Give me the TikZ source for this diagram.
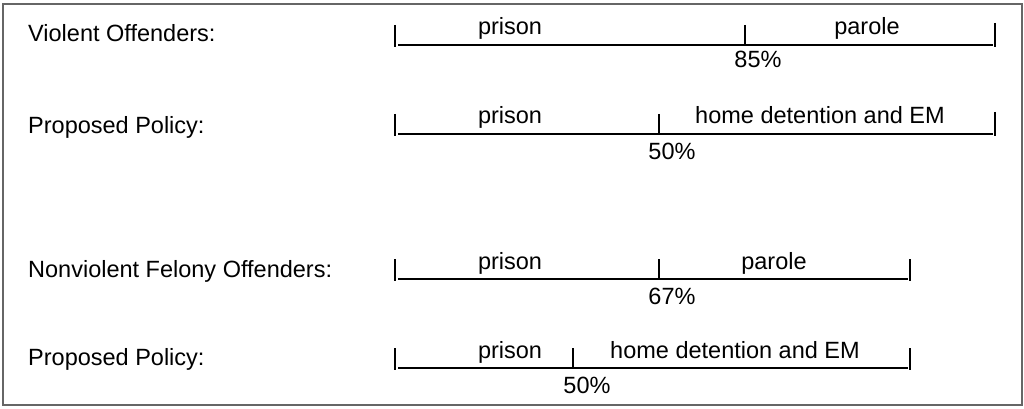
\documentclass[tikz,border=0pt]{standalone}
\usepackage{fontspec}
\setmainfont{Liberation Sans}
\begin{document}
\begin{tikzpicture}[x=1pt,y=-1pt,
  lbl/.style={anchor=base west,inner sep=0pt,font=\fontsize{23.5}{27}\selectfont},
  seg/.style={anchor=base,inner sep=0pt,font=\fontsize{23.5}{27}\selectfont},
  bar/.style={line width=2.2pt,black},
  frame/.style={draw=black!60,line width=1.5pt}]
\useasboundingbox (0,0) rectangle (1024,409);
\draw[frame] (3,4) rectangle (1022,405);

% Row 1
\node[lbl] (l1) at (28,42) {Violent Offenders:};
\coordinate (r1a) at (395,25); \coordinate (r1b) at (395,47);
\coordinate (r1s) at (398,45); \coordinate (r1e) at (993,45);
\coordinate (r1m) at (745,25); \coordinate (r1n) at (745,45);
\coordinate (r1c) at (995,23); \coordinate (r1d) at (995,47);
\draw[bar] (r1a) -- (r1b);
\draw[bar] (r1s) -- (r1e);
\draw[bar] (r1m) -- (r1n);
\draw[bar] (r1c) -- (r1d);
\node[seg] (p1) at (510,35) {prison};
\node[seg] (q1) at (867,35) {parole};
\node[seg] (v1) at (758,68) {85\%};

% Row 2
\node[lbl] (l2) at (28,133) {Proposed Policy:};
\coordinate (r2a) at (395,114); \coordinate (r2b) at (395,136);
\coordinate (r2s) at (398,134); \coordinate (r2e) at (993,134);
\coordinate (r2m) at (659,114); \coordinate (r2n) at (659,134);
\coordinate (r2c) at (995,112); \coordinate (r2d) at (995,136);
\draw[bar] (r2a) -- (r2b);
\draw[bar] (r2s) -- (r2e);
\draw[bar] (r2m) -- (r2n);
\draw[bar] (r2c) -- (r2d);
\node[seg] (p2) at (510,124) {prison};
\node[seg] (q2) at (820,124) {home detention and EM};
\node[seg] (v2) at (672,159) {50\%};

% Row 3
\node[lbl] (l3) at (28,277) {Nonviolent Felony Offenders:};
\coordinate (r3a) at (395,259); \coordinate (r3b) at (395,281);
\coordinate (r3s) at (398,279); \coordinate (r3e) at (908,279);
\coordinate (r3m) at (659,259); \coordinate (r3n) at (659,279);
\coordinate (r3c) at (910,259); \coordinate (r3d) at (910,281);
\draw[bar] (r3a) -- (r3b);
\draw[bar] (r3s) -- (r3e);
\draw[bar] (r3m) -- (r3n);
\draw[bar] (r3c) -- (r3d);
\node[seg] (p3) at (510,269) {prison};
\node[seg] (q3) at (774,269) {parole};
\node[seg] (v3) at (672,304) {67\%};

% Row 4
\node[lbl] (l4) at (28,365) {Proposed Policy:};
\coordinate (r4a) at (395,348); \coordinate (r4b) at (395,370);
\coordinate (r4s) at (398,368); \coordinate (r4e) at (908,368);
\coordinate (r4m) at (573,348); \coordinate (r4n) at (573,368);
\coordinate (r4c) at (910,348); \coordinate (r4d) at (910,370);
\draw[bar] (r4a) -- (r4b);
\draw[bar] (r4s) -- (r4e);
\draw[bar] (r4m) -- (r4n);
\draw[bar] (r4c) -- (r4d);
\node[seg] (p4) at (510,358) {prison};
\node[seg] (q4) at (735,358) {home detention and EM};
\node[seg] (v4) at (587,393) {50\%};
\end{tikzpicture}
\end{document}
